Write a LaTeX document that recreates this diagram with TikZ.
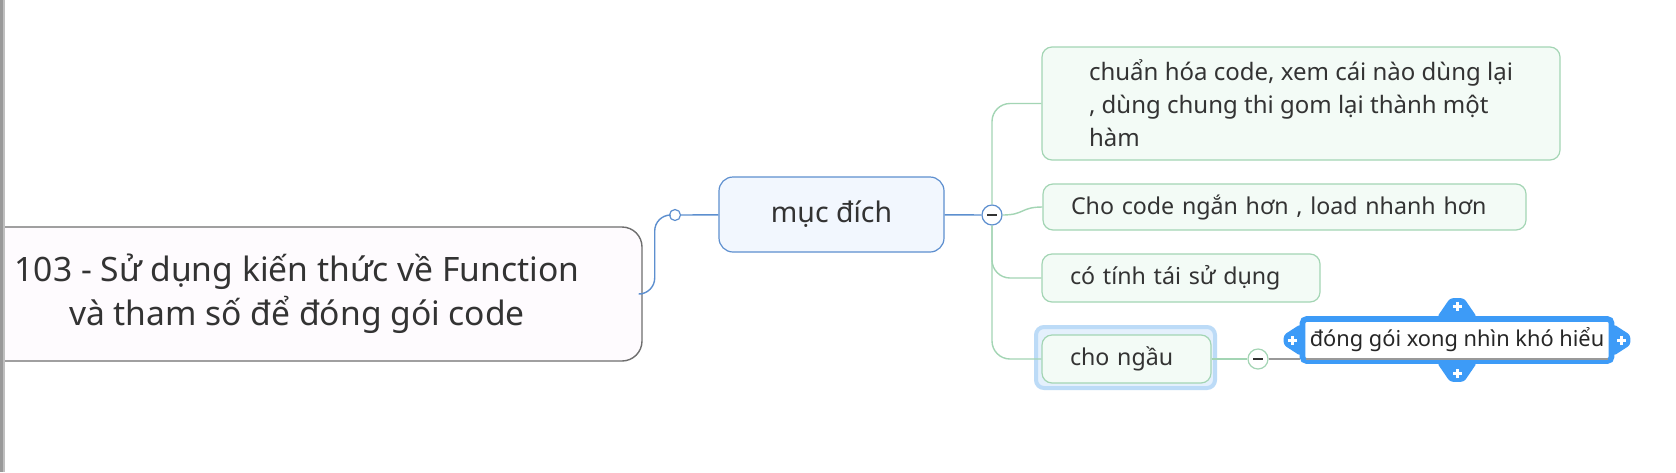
\documentclass[tikz,border=0pt]{standalone}
\usepackage{fontspec}
\setmainfont{Noto Sans}
\usepackage{tikz}
\usetikzlibrary{shapes.geometric}
\definecolor{txt}{HTML}{333333}
\definecolor{rootline}{HTML}{6E6E6E}
\definecolor{rootfill}{HTML}{FEFBFE}
\definecolor{blueline}{HTML}{5D8FCF}
\definecolor{bluefill}{HTML}{F2F7FE}
\definecolor{greenline}{HTML}{A3D5B4}
\definecolor{greenfill}{HTML}{F3FBF6}
\definecolor{selblue}{HTML}{3D9BF7}
\definecolor{halo}{HTML}{BCDBF7}
\definecolor{halofill}{HTML}{E4F0FC}

\begin{document}
\begin{tikzpicture}[x=0.5pt,y=-0.5pt,
		every node/.style={text=txt},
		rootbox/.style={draw=rootline,fill=rootfill,line width=0.7pt,rounded corners=10pt,minimum width=345pt,minimum height=67pt,align=center,font=\fontsize{16.8}{22}\selectfont},
		goalbox/.style={draw=blueline,fill=bluefill,line width=0.6pt,rounded corners=7pt,minimum width=112.5pt,minimum height=37.5pt,font=\fontsize{14.2}{16}\selectfont},
		subbox/.style={draw=greenline,fill=greenfill,line width=0.6pt,rounded corners=5pt,inner xsep=14pt,align=left,font=\fontsize{11.6}{16.5}\selectfont},
		knob/.style={circle,draw,fill=white,line width=0.6pt,minimum size=10pt,inner sep=0pt},
		tabplus/.style={white,line width=1.5pt}]
	\clip (0,0) rectangle (1676,472);
	\fill[white] (0,0) rectangle (1676,472);

	% main topic and goal
	\node[rootbox] (root) at (297,294) {103 - Sử dụng kiến thức về Function\\và tham số để đóng gói code};
	\node[goalbox] (goal) at (831.5,214.5) {mục đích};
	\node[knob,draw=blueline,minimum size=5.5pt] (rootknob) at (675,215) {};
	\node[knob,draw=blueline] (goalknob) at (992,215) {};
	\draw[blueline,line width=0.7pt,rounded corners=8pt] (root.east) -- ++(12,0) |- (rootknob.west);
	\draw[blueline,line width=0.7pt] (rootknob) -- (goal) (goal) -- (goalknob);

	% sub topics
	\node[subbox,minimum width=259pt,minimum height=56.5pt,font=\fontsize{12}{16.5}\selectfont] (c1) at (1301,103.5) {chuẩn hóa code, xem cái nào dùng lại\\, dùng chung thi gom lại thành một\\hàm};
	\node[subbox,text width=213.5pt,minimum height=23pt] (c2) at (1284.5,207) {Cho code ngắn hơn , load nhanh hơn};
	\node[subbox,text width=111pt,minimum height=24pt] (c3) at (1181,278) {có tính tái sử dụng};
	\draw[halo,fill=halofill,line width=2pt,rounded corners=4pt] (1036,327) rectangle (1215,388);
	\node[subbox,text width=56.5pt,minimum height=24pt] (c4) at (1126.5,359) {cho ngầu};
	\draw[greenline,line width=0.7pt,rounded corners=9pt] (goalknob.north) |- (c1.west);
	\draw[greenline,line width=0.7pt] (goalknob.east) .. controls +(22,0) and +(-22,0) .. (c2.west);
	\draw[greenline,line width=0.7pt,rounded corners=9pt] (goalknob.south) |- (c3.west);
	\draw[greenline,line width=0.7pt,rounded corners=9pt] (goalknob.south) |- (c4.west);
	\node[knob,draw=greenline] (c4knob) at (1258,359) {};
	\draw[greenline,line width=0.7pt] (c4) -- (c4knob);
	\foreach \k in {goalknob,c4knob}
		\draw[txt,line width=0.7pt] ([xshift=-2.5pt]\k.center) -- ([xshift=2.5pt]\k.center);

	% selected leaf
	\node[draw=selblue,fill=white,line width=2.8pt,rounded corners=2pt,minimum width=154.5pt,minimum height=21pt,inner sep=0pt,text=black!85,font=\fontsize{10.9}{13}\selectfont] (leaf) at (1457,340) {đóng gói xong nhìn khó hiểu};
	\draw[black!40,line width=0.6pt] (c4knob.east) -- (c4knob -| leaf.west);
	\draw[black!40,line width=0.6pt] ([xshift=3pt]c4knob -| leaf.west) -- ([xshift=-3pt]c4knob -| leaf.east);
	% handles
	\foreach \a/\r in {north/0,south/180}{
		\fill[selblue,shift={(leaf.\a)},rotate=\r,rounded corners=1.5pt] (-20,1) -- (-7,-18) -- (7,-18) -- (20,1) -- cycle;
		\draw[tabplus,shift={(leaf.\a)},rotate=\r] (-4.5,-10) -- (4.5,-10) (0,-14.5) -- (0,-5.5);
	}
	\foreach \a/\r in {east/-90,west/90}{
		\fill[selblue,shift={(leaf.\a)},rotate=\r,rounded corners=1.5pt] (-16,1) -- (-5,-16) -- (5,-16) -- (16,1) -- cycle;
		\draw[tabplus,shift={(leaf.\a)},rotate=\r] (-4.5,-7) -- (4.5,-7) (0,-11.5) -- (0,-2.5);
	}

	% window edge
	\fill[black!25] (0,0) rectangle (5,472);
	\fill[black!40] (0,0) rectangle (2.5,472);
\end{tikzpicture}
\end{document}
